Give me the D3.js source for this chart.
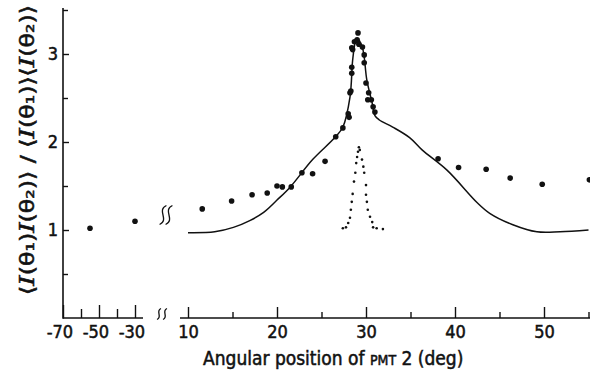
<!DOCTYPE html>
<html>
<head>
<meta charset="utf-8">
<script src="https://cdn.jsdelivr.net/npm/d3@7"></script>
<style>
  body { margin: 0; background: #fff; }
  svg { display: block; }
  .tick text { font-family: "DejaVu Sans Condensed", "DejaVu Sans", sans-serif; font-size: 18px; fill: #111; stroke: #111; stroke-width: 0.5px; }
  .tick line { stroke: #111; stroke-width: 1.4; }
  .label { fill: #111; stroke: #111; stroke-width: 0.5px; }
</style>
</head>
<body>
<div id="chart"></div>
<script>
// left (compressed) part of the angle axis
const leftMajor = [-70, -50, -30];
const leftMinor = [-60, -40];
// right part of the angle axis
const rightMajor = [10, 20, 30, 40, 50];
const rightMinor = [15, 25, 35, 45, 55];
const yMajor = [1, 2, 3];
const yMinor = [0.5, 1.5, 2.5, 3.5];

// measured correlation, left side of the break
const leftPoints = [[-55, 1.02], [-30, 1.1]];
// measured correlation, right side
const rightPoints = [
  [11.6, 1.24], [14.9, 1.33], [17.2, 1.40], [18.9, 1.42], [20.0, 1.50], [20.6, 1.49],
  [21.6, 1.49], [22.8, 1.65], [24.0, 1.64], [25.4, 1.78], [26.6, 2.06], [27.4, 2.16],
  [28.0, 2.32], [28.1, 2.28], [28.2, 2.56], [28.3, 2.58], [28.4, 2.78], [28.4, 2.85],
  [28.4, 3.07], [28.5, 3.05], [28.7, 3.14], [29.0, 3.16], [29.1, 3.24], [29.2, 3.11],
  [29.6, 3.08], [29.8, 2.99], [29.8, 2.90], [30.0, 2.67], [30.3, 2.56], [30.2, 2.48],
  [30.6, 2.48], [30.8, 2.40], [31.0, 2.34], [38.1, 1.81], [40.4, 1.71], [43.5, 1.69],
  [46.2, 1.59], [49.8, 1.52], [55.1, 1.57]
];
// theoretical curve (solid line)
const theory = [
  [10, 0.97], [13, 0.98], [15.1, 1.03], [17, 1.11], [18.5, 1.2], [20, 1.34], [21.5, 1.49],
  [24, 1.80], [26.5, 2.05], [27.4, 2.17], [28.2, 2.51], [28.5, 2.93], [28.8, 3.14],
  [29.0, 3.18], [29.6, 3.07], [30.1, 2.70], [30.7, 2.44], [31.0, 2.30], [31.5, 2.25],
  [33, 2.17], [34.9, 2.05], [36.3, 1.91], [39.1, 1.68], [42.5, 1.31], [43.9, 1.19],
  [46.5, 1.06], [49.2, 0.98], [51.8, 0.98], [55, 1.0]
];
// narrow dotted peak
const narrow = [
  [27.4, 1.02], [27.75, 1.03], [28.0, 1.08], [28.2, 1.14], [28.3, 1.23], [28.4, 1.32],
  [28.5, 1.41], [28.65, 1.55], [28.8, 1.65], [28.9, 1.76], [29.0, 1.83], [29.1, 1.89],
  [29.2, 1.94], [29.3, 1.91], [29.55, 1.80], [29.7, 1.72], [29.8, 1.65], [30.0, 1.51],
  [30.0, 1.40], [30.1, 1.32], [30.2, 1.23], [30.45, 1.15], [30.7, 1.09], [30.8, 1.03],
  [31.2, 1.02], [31.9, 1.01]
];

const width = 590, height = 376;
const axisY = 318, axisX = 63;
const font = '"DejaVu Sans Condensed", "DejaVu Sans", sans-serif';

const svg = d3.select('#chart').append('svg')
  .attr('width', width)
  .attr('height', height);

const y = d3.scaleLinear().domain([0, 3.5]).range([axisY, 10]);
const xL = d3.scaleLinear().domain([-70, -30]).range([axisX, 135]);
const xR = d3.scaleLinear().domain([10, 50]).range([188, 544]);

const fmt = d => d < 0 ? '-' + Math.abs(d) : d;

// y axis
svg.append('g').attr('transform', `translate(${axisX},0)`)
  .call(d3.axisLeft(y).tickValues(yMajor).tickSizeInner(-6).tickSizeOuter(0).tickPadding(5).tickFormat(fmt))
  .call(g => g.select('.domain').remove());
svg.append('g').attr('transform', `translate(${axisX},0)`)
  .call(d3.axisLeft(y).tickValues(yMinor).tickSizeInner(-5).tickSizeOuter(0).tickFormat(''))
  .call(g => g.select('.domain').remove());

// x axes
const bottom = svg.append('g').attr('transform', `translate(0,${axisY})`);
bottom.append('g')
  .call(d3.axisBottom(xL).tickValues(leftMajor).tickSizeInner(-13).tickSizeOuter(0).tickPadding(7).tickFormat(fmt))
  .call(g => g.select('.domain').remove())
  .call(g => g.selectAll('text').attr('dx', '-0.2em'));
bottom.append('g')
  .call(d3.axisBottom(xL).tickValues(leftMinor).tickSizeInner(-9).tickSizeOuter(0).tickFormat(''))
  .call(g => g.select('.domain').remove());
bottom.append('g')
  .call(d3.axisBottom(xR).tickValues(rightMajor).tickSizeInner(-11).tickSizeOuter(0).tickPadding(7).tickFormat(fmt))
  .call(g => g.select('.domain').remove());
bottom.append('g')
  .call(d3.axisBottom(xR).tickValues(rightMinor).tickSizeInner(-6).tickSizeOuter(0).tickFormat(''))
  .call(g => g.select('.domain').remove());

// axis lines
const axisStroke = g => g.attr('stroke', '#111').attr('stroke-width', 1.6).attr('fill', 'none');
svg.append('line').attr('x1', axisX).attr('x2', axisX).attr('y1', 8).attr('y2', axisY + 0.8).call(axisStroke);
svg.append('line').attr('x1', axisX).attr('x2', 143).attr('y1', axisY).attr('y2', axisY).call(axisStroke);
svg.append('line').attr('x1', 180).attr('x2', 590).attr('y1', axisY).attr('y2', axisY).call(axisStroke);

// break marks
function squiggle(cx, cy, h) {
  const w = h * 0.18;
  return `M${cx + w},${cy - h / 2} C${cx - w * 2},${cy - h / 4} ${cx + w * 2},${cy + h / 4} ${cx - w},${cy + h / 2}`;
}
[[163, 215, 19], [169, 215, 19], [159, 314, 11], [165, 314, 11]].forEach(s => {
  svg.append('path').attr('d', squiggle(s[0], s[1], s[2]))
    .attr('fill', 'none').attr('stroke', '#111').attr('stroke-width', 1.3);
});

// theory line
const line = d3.line().x(d => xR(d[0])).y(d => y(d[1])).curve(d3.curveCatmullRom);
svg.append('path').datum(theory)
  .attr('d', line)
  .attr('fill', 'none').attr('stroke', '#111').attr('stroke-width', 1.5);

// narrow dotted peak
svg.append('g').selectAll('circle').data(narrow).join('circle')
  .attr('cx', d => xR(d[0])).attr('cy', d => y(d[1])).attr('r', 1.3).attr('fill', '#111');

// measured points
svg.append('g').selectAll('circle').data(leftPoints).join('circle')
  .attr('cx', d => xL(d[0])).attr('cy', d => y(d[1])).attr('r', 2.8).attr('fill', '#111');
svg.append('g').selectAll('circle').data(rightPoints).join('circle')
  .attr('cx', d => xR(d[0])).attr('cy', d => y(d[1])).attr('r', 2.8).attr('fill', '#111');

// x title
const xt = svg.append('text').attr('class', 'label').attr('x', 203).attr('y', 365)
  .attr('font-family', font).attr('font-size', 19);
xt.append('tspan').text('Angular position of ');
xt.append('tspan').attr('font-size', 14).text('PMT');
xt.append('tspan').text(' 2 (deg)');

// y title
const yt = svg.append('text').attr('class', 'label')
  .attr('transform', 'translate(34,150) rotate(-90)')
  .attr('text-anchor', 'middle')
  .attr('textLength', 290).attr('lengthAdjust', 'spacingAndGlyphs')
  .attr('font-family', font).attr('font-size', 20);
const parts = [['⟨'], ['I', 1], ['(θ₁)'], ['I', 1], ['(θ₂)⟩ / ⟨'], ['I', 1], ['(θ₁)⟩⟨'], ['I', 1], ['(θ₂)⟩']];
parts.forEach(p => {
  const t = yt.append('tspan').text(p[0]);
  if (p[1]) t.attr('font-family', '"DejaVu Serif", serif').attr('font-style', 'italic');
});
</script>
</body>
</html>
